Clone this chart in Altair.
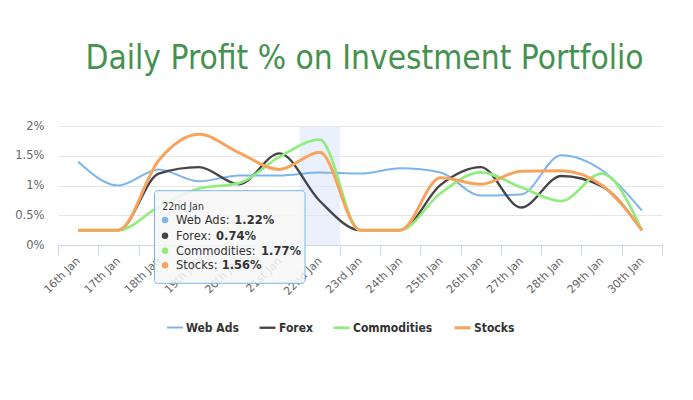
import altair as alt
import pandas as pd

# ---------------- data ----------------
dates = ["16th Jan", "17th Jan", "18th Jan", "19th Jan", "20th Jan", "21st Jan", "22nd Jan",
         "23rd Jan", "24th Jan", "25th Jan", "26th Jan", "27th Jan", "28th Jan", "29th Jan", "30th Jan"]
web_ads = [1.40, 1.00, 1.27, 1.07, 1.17, 1.17, 1.22, 1.20, 1.29, 1.22, 0.83, 0.85, 1.51, 1.26, 0.58]
forex = [0.25, 0.25, 1.20, 1.31, 1.02, 1.54, 0.74, 0.25, 0.25, 1.01, 1.31, 0.63, 1.16, 0.99, 0.25]
commodities = [0.25, 0.25, 0.64, 0.95, 1.04, 1.48, 1.77, 0.25, 0.25, 0.87, 1.22, 0.97, 0.74, 1.20, 0.25]
stocks = [0.25, 0.25, 1.42, 1.86, 1.55, 1.27, 1.56, 0.25, 0.25, 1.13, 1.02, 1.24, 1.25, 1.01, 0.25]
series_names = ["Web Ads", "Forex", "Commodities", "Stocks"]
series_colors = ["#7cb5ec", "#434348", "#90ed7d", "#f7a35c"]
series_widths = [2, 3, 2, 2]
y_ticks = [0, 0.5, 1, 1.5, 2]
hover_day = "22nd Jan"
title_text = "Daily Profit % on Investment Portfolio"

FONT = "DejaVu Sans Condensed, DejaVu Sans"
AXFONT = "DejaVu Sans"
W, H = 604, 119

rows = []
for name, vals in zip(series_names, [web_ads, forex, commodities, stocks]):
    for i, v in enumerate(vals):
        rows.append({"idx": i, "date": dates[i], "series": name, "value": v})
df = pd.DataFrame(rows)

n = len(dates)
labels_js = "[" + ",".join("'" + d + "'" for d in dates) + "]"
x_scale = alt.Scale(domain=[-0.5, n - 0.5], nice=False, zero=False)
x_axis = alt.Axis(
    title=None, values=[i - 0.5 for i in range(n + 1)],
    labelExpr=f"datum.value < {n - 1} ? {labels_js}[round(datum.value + 0.5)] : ''",
    labelOffset=W / n / 2, labelAngle=-45, labelAlign="right", labelBaseline="middle",
    labelFlush=False, labelOverlap=False, labelBound=False,
    labelFont=AXFONT, labelFontSize=11, labelColor="#666666", labelPadding=4,
    domainColor="#ccd6eb", tickColor="#ccd6eb", tickSize=10, grid=False,
)
y_scale = alt.Scale(domain=[0, 2], nice=False, zero=True)
y_axis = alt.Axis(
    title=None, values=y_ticks, labelExpr="datum.value + '%'",
    domain=False, ticks=False, gridColor="#e6e6e6", labelFont=AXFONT,
    labelFontSize=11.5, labelColor="#666666", labelPadding=14,
)

hi = dates.index(hover_day)
band = alt.Chart(pd.DataFrame({"a": [hi - 0.5], "b": [hi + 0.5]})).mark_rect(
    color="#dce8fb", opacity=0.6
).encode(
    x=alt.X("a:Q", scale=x_scale, axis=x_axis), x2="b:Q",
    y=alt.value(0), y2=alt.value(H),
)

lines = alt.Chart(df).mark_line(interpolate="monotone").encode(
    x=alt.X("idx:Q", scale=x_scale, axis=x_axis),
    y=alt.Y("value:Q", scale=y_scale, axis=y_axis),
    color=alt.Color("series:N", sort=series_names,
                    scale=alt.Scale(domain=series_names, range=series_colors),
                    legend=alt.Legend(
                        title=None, orient="none", legendX=108, legendY=192,
                        direction="horizontal", symbolType="stroke", symbolStrokeWidth=2,
                        symbolSize=256, labelFont=FONT, labelFontSize=12,
                        labelFontWeight="bold", labelColor="#333333",
                        columnPadding=15, labelOffset=2)),
    strokeWidth=alt.StrokeWidth("series:N", scale=alt.Scale(domain=series_names, range=series_widths),
                                legend=None),
    detail="series:N",
)

one = pd.DataFrame({"t": [title_text]})
title = alt.Chart(one).mark_text(
    font=FONT, fontSize=33.2, color="#43924d", align="center", baseline="alphabetic"
).encode(x=alt.value(306.5), y=alt.value(-57), text="t:N")

tip_box = alt.Chart(pd.DataFrame({"k": [0]})).mark_rect(
    fill="#f7f7f7", fillOpacity=0.85, stroke="#7cb5ec", strokeWidth=1, cornerRadius=3
).encode(x=alt.value(96.5), x2=alt.value(247), y=alt.value(64.7), y2=alt.value(157.3))

tip_head = alt.Chart(pd.DataFrame({"t": [hover_day]})).mark_text(
    font=FONT, fontSize=10.5, color="#333333", align="left", baseline="middle"
).encode(x=alt.value(104.3), y=alt.value(80.7), text="t:N")

tip_layers = [tip_box, tip_head]
row_y = [94, 109.7, 124.7, 139.3]
val_x = [176.3, 158, 203, 163.7]
all_vals = [web_ads, forex, commodities, stocks]
for name, col, vals, ry, vx in zip(series_names, series_colors, all_vals, row_y, val_x):
    tip_layers.append(alt.Chart(pd.DataFrame({"k": [0]})).mark_point(
        shape="circle", filled=True, size=42, color=col, opacity=1
    ).encode(x=alt.value(107), y=alt.value(ry)))
    tip_layers.append(alt.Chart(pd.DataFrame({"t": [name + ":"]})).mark_text(
        font=FONT, fontSize=12.8, color="#333333", align="left", baseline="middle"
    ).encode(x=alt.value(118), y=alt.value(ry), text="t:N"))
    tip_layers.append(alt.Chart(pd.DataFrame({"t": [f"{vals[hi]:.2f}%"]})).mark_text(
        font=FONT, fontSize=12.8, fontWeight="bold", color="#333333", align="left", baseline="middle"
    ).encode(x=alt.value(vx), y=alt.value(ry), text="t:N"))

chart = alt.layer(band, lines, title, *tip_layers).properties(
    width=W, height=H,
    padding={"left": 50, "top": 118, "right": 23, "bottom": 140},
    autosize=alt.AutoSizeParams(type="none"),
).configure_view(stroke=None)

chart.save("out.html", embed_options={"renderer": "svg", "actions": False})
